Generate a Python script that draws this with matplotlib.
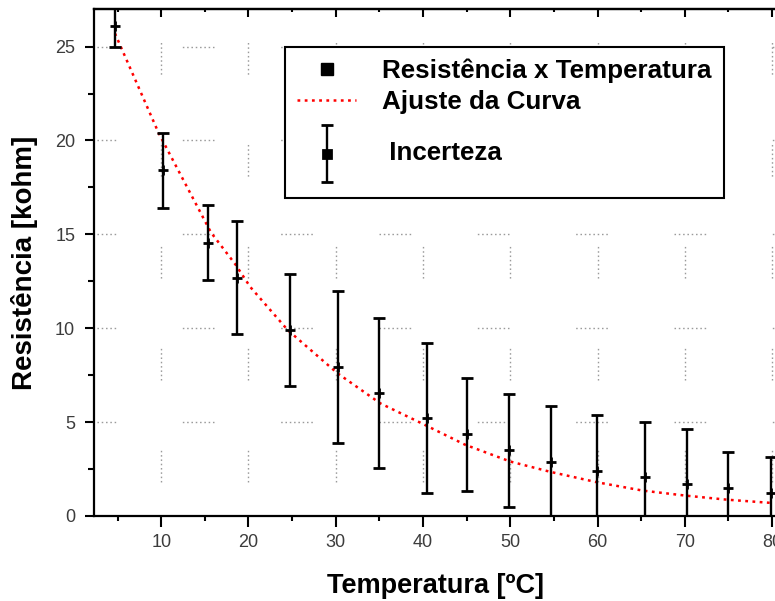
import matplotlib
matplotlib.use("Agg")
import matplotlib.pyplot as plt
from matplotlib.lines import Line2D
from matplotlib.legend_handler import HandlerErrorbar
from matplotlib.ticker import MultipleLocator

# dados
temperatura = [4.7, 10.2, 15.4, 18.7, 24.8, 30.2, 35.0, 40.5, 45.0, 49.9,
               54.7, 59.9, 65.4, 70.3, 75.0, 79.9]
resistencia = [26.1, 18.4, 14.55, 12.7, 9.9, 7.95, 6.55, 5.2, 4.35, 3.5,
               2.9, 2.4, 2.07, 1.7, 1.5, 1.22]
incerteza = [1.1, 2.0, 2.0, 3.0, 3.0, 4.05, 4.0, 4.0, 3.0, 3.0,
             2.95, 3.0, 2.95, 2.95, 1.9, 1.9]

# curva de ajuste (pontos lidos sobre a linha vermelha)
ajuste_x = [4.7, 9.7, 15.7, 18.5, 20.2, 24.5, 30.2, 35.1, 40.0, 44.8,
            50.0, 54.6, 59.9, 65.2, 70.2, 74.8, 79.8]
ajuste_y = [25.7, 20.4, 15.1, 13.4, 12.2, 9.9, 7.6, 6.0, 4.9, 3.8,
            2.9, 2.35, 1.8, 1.35, 1.08, 0.87, 0.7]

plt.rcParams['font.family'] = ['Liberation Sans', 'DejaVu Sans']
plt.rcParams['lines.scale_dashes'] = False

fig = plt.figure(figsize=(7.75, 6.01), dpi=100)
ax = fig.add_axes([94 / 775, 85 / 601, 682.5 / 775, 507 / 601])

# grade pontilhada interrompida
dots = [1.1, 2.0] * 7
padrao_v = (48.9, tuple(dots + [1.1, 2.0 + 73.4 - 24.8]))
padrao_h = (7.2, tuple(dots + [1.1, 2.0 + 70.8 - 24.8]))
ax.xaxis.grid(True, which='major', color='#9a9a9a', lw=1.0, linestyle=padrao_v)
ax.yaxis.grid(True, which='major', color='#9a9a9a', lw=1.0, linestyle=padrao_h)
ax.set_axisbelow(True)

ajuste, = ax.plot(ajuste_x, ajuste_y, color='#ff0000', lw=1.8,
                  linestyle=(0, (2.0, 3.2)), label='Ajuste da Curva', zorder=3)

barras = ax.errorbar(temperatura, resistencia, yerr=incerteza, fmt='+',
                     color='k', ms=7, mew=2.0, elinewidth=1.7,
                     capsize=4.5, capthick=1.7, label=' Incerteza', zorder=4)

ax.set_xlim(2.3, 80.5)
ax.set_ylim(0, 27)
ax.xaxis.set_major_locator(MultipleLocator(10))
ax.xaxis.set_minor_locator(MultipleLocator(5))
ax.yaxis.set_major_locator(MultipleLocator(5))
ax.yaxis.set_minor_locator(MultipleLocator(2.5))

for lado in ['left', 'bottom', 'top', 'right']:
    ax.spines[lado].set_linewidth(1.6)

ax.tick_params(axis='x', which='major', direction='out', length=8, width=1.5,
               pad=5, labelsize=13, labelcolor='#3c3c3c')
ax.tick_params(axis='x', which='minor', direction='out', length=3.5, width=1.5)
ax.tick_params(axis='y', which='major', direction='out', length=6.5, width=1.5,
               pad=7, labelsize=13, labelcolor='#3c3c3c')
ax.tick_params(axis='y', which='minor', direction='out', length=4, width=1.5)

topo = ax.secondary_xaxis('top')
topo.xaxis.set_major_locator(MultipleLocator(10))
topo.xaxis.set_minor_locator(MultipleLocator(5))
topo.tick_params(which='major', direction='in', length=5.5, width=1.5, labeltop=False)
topo.tick_params(which='minor', direction='in', length=2.5, width=1.5)
topo.spines['top'].set_linewidth(1.6)

ax.set_xlabel('Temperatura [ºC]', fontsize=19.5, fontweight='bold', labelpad=16)
ax.set_ylabel('Resistência [kohm]', fontsize=20, fontweight='bold', labelpad=12)


def marcador_quadrado(leg_artist, orig):
    leg_artist.update_from(orig)
    if isinstance(leg_artist, Line2D) and leg_artist.get_marker() == '+':
        leg_artist.set_marker('s')
        leg_artist.set_markersize(6)


ponto = Line2D([], [], ls='none', marker='s', color='k', ms=9)
leg = ax.legend([ponto, ajuste, barras],
                ['Resistência x Temperatura', 'Ajuste da Curva', '\n Incerteza\n'],
                handler_map={type(barras): HandlerErrorbar(yerr_size=1.1,
                                                           update_func=marcador_quadrado)},
                loc='upper left', bbox_to_anchor=(285 / 775, 1 - 47 / 601),
                bbox_transform=fig.transFigure, borderaxespad=0, numpoints=1,
                prop={'weight': 'bold', 'size': 18.7}, frameon=True, fancybox=False,
                edgecolor='k', framealpha=1, handlelength=2.3, handletextpad=1.0,
                borderpad=0.45, labelspacing=0.25)
leg.get_frame().set_linewidth(1.5)
leg.get_texts()[2].set_linespacing(0.85)

fig.savefig('out.png', dpi=100)
